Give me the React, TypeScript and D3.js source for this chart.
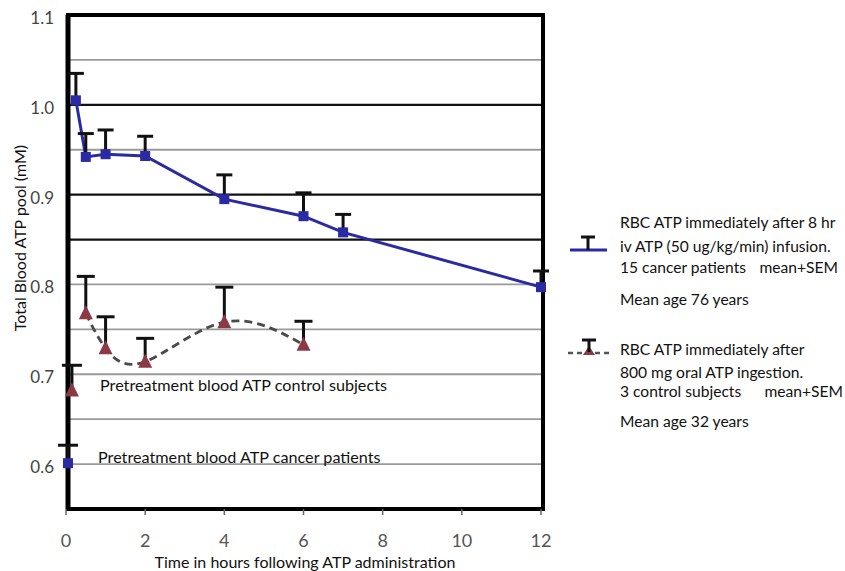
import * as d3 from "d3";

// cancer patients, 8 hr iv ATP infusion (mean, SEM)
const cancerHours = [0.25, 0.5, 1, 2, 4, 6, 7, 12];
const cancerMean = [1.005, 0.942, 0.945, 0.943, 0.895, 0.876, 0.858, 0.797];
const cancerSem = [0.03, 0.026, 0.027, 0.022, 0.027, 0.026, 0.02, 0.018];

// control subjects, 800 mg oral ATP (mean, SEM)
const controlHours = [0.5, 1, 2, 4, 6];
const controlMean = [0.768, 0.729, 0.714, 0.758, 0.733];
const controlSem = [0.041, 0.035, 0.026, 0.039, 0.026];

// pretreatment values
const pretreatCancer = { hour: 0.05, mean: 0.601, sem: 0.02 };
const pretreatControl = { hour: 0.15, mean: 0.682, sem: 0.028 };

const yTicks = [0.6, 0.7, 0.8, 0.9, 1.0, 1.1];
const xTicks = [0, 2, 4, 6, 8, 10, 12];
const gridBlack = [1.0, 0.9, 0.85];
const gridGray = [1.05, 0.95, 0.8, 0.75, 0.7, 0.65, 0.6];

const W = 845;
const H = 571;
const left = 68;
const right = 543;
const top = 15;
const bottom = 509;

const FONT = "Lato, 'Open Sans', sans-serif";
const BLUE = "#2a2aa5";
const TRI = "#8b3a45";

export default function App() {
  const x = d3.scaleLinear().domain([0, 12]).range([66, 541]);
  const y = d3.scaleLinear().domain([0.55, 1.1]).range([bottom, top]);

  const cancerPts = cancerHours.map((h, i) => ({ h, m: cancerMean[i], s: cancerSem[i] }));
  const controlPts = controlHours.map((h, i) => ({ h, m: controlMean[i], s: controlSem[i] }));

  const blueLine = d3
    .line<{ h: number; m: number }>()
    .x((d) => x(d.h))
    .y((d) => y(d.m));

  const dashLine = d3
    .line<{ h: number; m: number }>()
    .x((d) => x(d.h))
    .y((d) => y(d.m))
    .curve(d3.curveNatural);

  const errBar = (h: number, m: number, s: number, key: string, cap = 18) => (
    <g key={key} stroke="#111" strokeWidth={3}>
      <line x1={x(h)} x2={x(h)} y1={y(m)} y2={y(m + s)} />
      <line x1={x(h) - cap / 2} x2={x(h) + cap / 2} y1={y(m + s)} y2={y(m + s)} />
    </g>
  );

  const square = (h: number, m: number, key: string) => (
    <rect key={key} x={x(h) - 5} y={y(m) - 5} width={10} height={10} fill={BLUE} />
  );

  const triangle = (h: number, m: number, key: string) => {
    const cx = x(h);
    const cy = y(m);
    return (
      <path
        key={key}
        d={`M${cx},${cy - 8}L${cx + 7},${cy + 6}L${cx - 7},${cy + 6}Z`}
        fill={TRI}
      />
    );
  };

  const legendText = [
    { t: "RBC ATP immediately after 8 hr", y: 228 },
    { t: "iv ATP (50 ug/kg/min) infusion.", y: 252 },
    { t: "15 cancer patients", y: 273 },
    { t: "Mean age 76 years", y: 305 },
    { t: "RBC ATP immediately after", y: 355 },
    { t: "800 mg oral ATP ingestion.", y: 378 },
    { t: "3 control subjects", y: 397 },
    { t: "Mean age 32 years", y: 427 },
  ];

  return (
    <svg width={W} height={H} style={{ position: "absolute", left: 0, top: 0, background: "#fff" }}>
      {/* grid */}
      {gridGray.map((v) => (
        <line key={"g" + v} x1={left} x2={right} y1={y(v)} y2={y(v)} stroke="#9a9a9a" strokeWidth={1.8} />
      ))}
      {gridBlack.map((v) => (
        <line key={"b" + v} x1={left} x2={right} y1={y(v)} y2={y(v)} stroke="#111" strokeWidth={2.2} />
      ))}

      {/* frame */}
      <rect x={left} y={top} width={right - left} height={bottom - top} fill="none" stroke="#000" strokeWidth={4} />
      <line x1={left} x2={left} y1={top} y2={bottom} stroke="#000" strokeWidth={5} />

      {/* x ticks */}
      {xTicks.map((t) => (
        <g key={"xt" + t}>
          <line x1={x(t)} x2={x(t)} y1={bottom} y2={bottom + 6} stroke="#666" strokeWidth={1.5} />
          <text x={x(t)} y={bottom + 38} textAnchor="middle" fontFamily={FONT} fontSize={18} fill="#555">
            {t}
          </text>
        </g>
      ))}
      {yTicks.map((v) => (
        <text key={"yt" + v} x={54} y={y(v) + 9} textAnchor="end" fontFamily={FONT} fontSize={17} fill="#444">
          {d3.format(".1f")(v)}
        </text>
      ))}

      <text x={305} y={568} textAnchor="middle" fontFamily={FONT} fontSize={16} fill="#111">
        Time in hours following ATP administration
      </text>
      <text
        transform={`translate(26,238) rotate(-90)`}
        textAnchor="middle"
        fontFamily={FONT}
        fontSize={16}
        fill="#111"
      >
        Total Blood ATP pool (mM)
      </text>

      {/* annotations */}
      <text x={100} y={391} fontFamily={FONT} fontSize={16.2} fill="#111">
        Pretreatment blood ATP control subjects
      </text>
      <text x={98} y={463} fontFamily={FONT} fontSize={16.2} fill="#111">
        Pretreatment blood ATP cancer patients
      </text>

      {/* control series */}
      <path d={dashLine(controlPts) || ""} fill="none" stroke="#4a4a4a" strokeWidth={2.8} strokeDasharray="8,5" />
      {controlPts.map((d, i) => errBar(d.h, d.m, d.s, "ce" + i))}
      {controlPts.map((d, i) => triangle(d.h, d.m, "ct" + i))}
      {errBar(pretreatControl.hour, pretreatControl.mean, pretreatControl.sem, "pce", 20)}
      {triangle(pretreatControl.hour, pretreatControl.mean, "pct")}

      {/* cancer series */}
      <path d={blueLine(cancerPts) || ""} fill="none" stroke={BLUE} strokeWidth={3} />
      {cancerPts.map((d, i) => errBar(d.h, d.m, d.s, "be" + i, 16))}
      {cancerPts.map((d, i) => square(d.h, d.m, "bs" + i))}
      {errBar(pretreatCancer.hour, pretreatCancer.mean, pretreatCancer.sem, "pbe", 20)}
      {square(pretreatCancer.hour, pretreatCancer.mean, "pbs")}

      {/* legend */}
      <g>
        <line x1={570} x2={607} y1={250} y2={250} stroke={BLUE} strokeWidth={3} />
        <line x1={588} x2={588} y1={237} y2={250} stroke="#111" strokeWidth={3} />
        <line x1={581} x2={595} y1={237} y2={237} stroke="#111" strokeWidth={3} />
        <line x1={568} x2={610} y1={353} y2={353} stroke="#555" strokeWidth={2.5} strokeDasharray="5,4" />
        <path d="M589,346L595,355L583,355Z" fill={TRI} />
        <line x1={589} x2={589} y1={340} y2={352} stroke="#111" strokeWidth={3} />
        <line x1={582} x2={596} y1={340} y2={340} stroke="#111" strokeWidth={3} />
        {legendText.map((d) => (
          <text key={d.t} x={620} y={d.y} fontFamily={FONT} fontSize={15.6} fill="#111">
            {d.t}
          </text>
        ))}
        <text x={838} y={273} textAnchor="end" fontFamily={FONT} fontSize={15.6} fill="#111">
          mean+SEM
        </text>
        <text x={843} y={397} textAnchor="end" fontFamily={FONT} fontSize={15.6} fill="#111">
          mean+SEM
        </text>
      </g>
    </svg>
  );
}
